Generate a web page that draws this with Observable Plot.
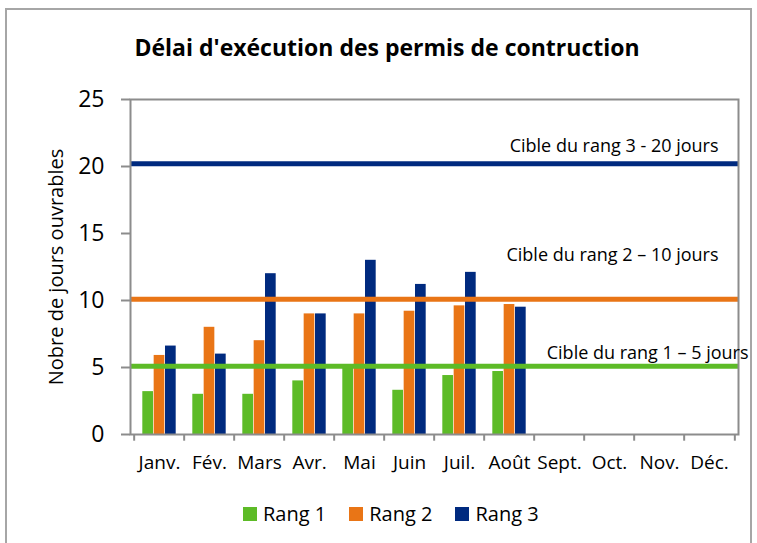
<!DOCTYPE html>
<html><head><meta charset="utf-8">
<script src="https://cdn.jsdelivr.net/npm/d3@7"></script>
<script src="https://cdn.jsdelivr.net/npm/@observablehq/plot@0.6"></script>
<style>
body{margin:0;background:#fff;font-family:"Open Sans",sans-serif;}
#wrap{position:relative;width:757px;height:543px;overflow:hidden;background:#fff}
#border{position:absolute;left:5px;top:8px;width:747px;height:560px;border:2px solid #a6a6a6;box-sizing:border-box}
#title{position:absolute;left:0;width:774px;top:36px;text-align:center;font-weight:700;font-size:23px;line-height:23px;color:#000;white-space:nowrap}
#chart{position:absolute;left:0;top:80px}
#legend{position:absolute;left:243px;top:504px;display:flex;align-items:center;height:20px;font-size:20px;line-height:20px;color:#000}
#legend .item{display:flex;align-items:center;margin-right:23px}
#legend .sw{width:14px;height:14px;margin-right:6px}
</style></head>
<body>
<div id="wrap">
  <div id="border"></div>
  <div id="title"></div>
  <div id="chart"></div>
  <div id="legend"></div>
</div>
<script>
const title = "Délai d'exécution des permis de contruction";
const yLabel = "Nobre de jours ouvrables";
const months = ["Janv.","Fév.","Mars","Avr.","Mai","Juin","Juil.","Août","Sept.","Oct.","Nov.","Déc."];
const series = ["Rang 1","Rang 2","Rang 3"];
const rang1 = [3.2, 3.0, 3.0, 4.0, 5.0, 3.3, 4.4, 4.7];
const rang2 = [5.9, 8.0, 7.0, 9.0, 9.0, 9.2, 9.6, 9.7];
const rang3 = [6.6, 6.0, 12.0, 9.0, 13.0, 11.2, 12.1, 9.5];
const colors = ["#5dbb27", "#e97516", "#002a7f"];
const targets = [5.1, 10.1, 20.2];
const targetLabels = ["Cible du rang 1 – 5 jours", "Cible du rang 2 – 10 jours", "Cible du rang 3 - 20 jours"];
const yTicks = [0, 5, 10, 15, 20, 25];

document.getElementById("title").textContent = title;

const W = 757, ML = 130, MR = 19;
const bw = (W - ML - MR) / months.length;
const barW = 11.35;
const pad = (bw - 3 * barW) / 2;

const values = [rang1, rang2, rang3];
const table = [];
values.forEach((arr, s) => arr.forEach((v, i) => table.push({month: months[i], serie: series[s], value: v})));

const axisColor = "#8c8c8c";
const labelDx = [10, -20, -20];
const labelDy = [-13, -44, -18];

const marks = [];
series.forEach((s, k) => {
  marks.push(Plot.barY(table.filter(d => d.serie === s), {
    x: "month", y: "value", fill: colors[k],
    insetLeft: pad + k * barW, insetRight: bw - pad - (k + 1) * barW
  }));
});
targets.forEach((t, k) => {
  marks.push(Plot.ruleY([t], {stroke: colors[k], strokeWidth: 5}));
});
marks.push(Plot.frame({stroke: axisColor, strokeWidth: 2}));
marks.push(Plot.axisY({ticks: yTicks, tickSize: 9, tickPadding: 17, fontSize: 23, stroke: axisColor, strokeWidth: 2, fill: "#000", label: null}));
marks.push(Plot.axisX({tickSize: 0, tickPadding: 21, fontSize: 19, fill: "#000", label: null}));
marks.push(Plot.ruleX(months, {x: d => d, dx: -bw / 2, y1: 0, y2: -0.5, stroke: axisColor, strokeWidth: 2}));
marks.push(Plot.ruleX(months.slice(-1), {x: d => d, dx: bw / 2, y1: 0, y2: -0.5, stroke: axisColor, strokeWidth: 2}));
targets.forEach((t, k) => {
  marks.push(Plot.text([targetLabels[k]], {y: [t], text: d => d, frameAnchor: "right", textAnchor: "end", dx: labelDx[k], dy: labelDy[k], fontSize: 18, fill: "#000"}));
});
marks.push(Plot.text([yLabel], {text: d => d, frameAnchor: "left", textAnchor: "middle", lineAnchor: "middle", rotate: -90, dx: -74, fontSize: 20, fill: "#000"}));

const chart = Plot.plot({
  width: W, height: 399,
  marginTop: 19, marginBottom: 45, marginLeft: ML, marginRight: MR,
  style: {fontFamily: "'Open Sans', sans-serif", background: "transparent", color: "#000", overflow: "visible"},
  x: {domain: months, padding: 0, axis: null},
  y: {domain: [0, 25], axis: null},
  marks
});
document.getElementById("chart").appendChild(chart);

const legend = document.getElementById("legend");
series.forEach((s, k) => {
  const item = document.createElement("div");
  item.className = "item";
  const sw = document.createElement("div");
  sw.className = "sw";
  sw.style.background = colors[k];
  const tx = document.createElement("span");
  tx.textContent = s;
  item.appendChild(sw); item.appendChild(tx);
  legend.appendChild(item);
});
</script>
</body></html>
